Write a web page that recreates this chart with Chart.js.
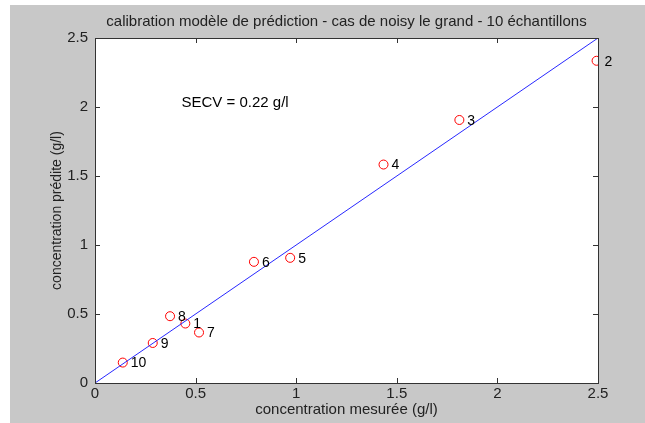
<!DOCTYPE html>
<html>
<head>
<meta charset="utf-8">
<script src="https://cdn.jsdelivr.net/npm/chart.js@4.4.1/dist/chart.umd.min.js"></script>
<style>
  html, body { margin: 0; padding: 0; background: #fff; }
  #bg { position: absolute; left: 10px; top: 5px; right: 0; bottom: 0; background: #c8c8c8; }
  #wrap { position: absolute; left: 0; top: 0; width: 645px; height: 423px; }
</style>
</head>
<body>
<div id="bg"></div>
<div id="wrap"><canvas id="c" width="645" height="423"></canvas></div>
<script>
// ── données ──
const sampleIds   = ['1', '2', '3', '4', '5', '6', '7', '8', '9', '10'];
const measured    = [0.449, 2.493, 1.811, 1.434, 0.970, 0.790, 0.517, 0.373, 0.287, 0.138];
const predicted   = [0.431, 2.335, 1.906, 1.583, 0.907, 0.878, 0.366, 0.484, 0.290, 0.148];
const identityX   = [0, 2.5];
const identityY   = [0, 2.5];
const tickValues  = [0, 0.5, 1, 1.5, 2, 2.5];
const secvText    = 'SECV = 0.22 g/l';
const secvPos     = { x: 0.43, y: 2.03 };

const FONT = 'Liberation Sans, Arial, sans-serif';

// fond blanc de la zone de tracé + cadre + graduations vers l'intérieur
const axesBox = {
  id: 'axesBox',
  beforeDatasetsDraw(chart){
    const { ctx, chartArea: a } = chart;
    ctx.save();
    ctx.fillStyle = '#fff';
    ctx.fillRect(a.left, a.top, a.right - a.left, a.bottom - a.top);
    ctx.restore();
  },
  afterDatasetsDraw(chart){
    const { ctx, chartArea: a, scales } = chart;
    ctx.save();
    ctx.strokeStyle = '#333';
    ctx.lineWidth = 1;
    ctx.strokeRect(Math.round(a.left) + .5, Math.round(a.top) + .5,
                   Math.round(a.right - a.left), Math.round(a.bottom - a.top));
    const L = 5;
    ctx.beginPath();
    tickValues.forEach(v => {
      const px = Math.round(scales.x.getPixelForValue(v)) + .5;
      ctx.moveTo(px, a.bottom); ctx.lineTo(px, a.bottom - L);
      ctx.moveTo(px, a.top);    ctx.lineTo(px, a.top + L);
      const py = Math.round(scales.y.getPixelForValue(v)) + .5;
      ctx.moveTo(a.left, py);  ctx.lineTo(a.left + L, py);
      ctx.moveTo(a.right, py); ctx.lineTo(a.right - L, py);
    });
    ctx.stroke();

    // numéros des échantillons
    const meta = chart.getDatasetMeta(1);
    ctx.fillStyle = '#000';
    ctx.font = '14px ' + FONT;
    ctx.textBaseline = 'middle';
    ctx.textAlign = 'left';
    meta.data.forEach((pt, i) => ctx.fillText(sampleIds[i], pt.x + 8, pt.y + 1));

    // SECV
    ctx.font = '15px ' + FONT;
    ctx.fillText(secvText, scales.x.getPixelForValue(secvPos.x), scales.y.getPixelForValue(secvPos.y));
    ctx.restore();
  }
};

new Chart(document.getElementById('c'), {
  type: 'scatter',
  data: {
    datasets: [
      {
        type: 'line',
        data: identityX.map((x, i) => ({ x, y: identityY[i] })),
        borderColor: '#2828ff', borderWidth: 1, pointRadius: 0, fill: false, tension: 0
      },
      {
        data: measured.map((x, i) => ({ x, y: predicted[i] })),
        pointStyle: 'circle', pointRadius: 4.5, borderWidth: 1,
        borderColor: '#ff0000', backgroundColor: 'rgba(0,0,0,0)'
      }
    ]
  },
  options: {
    responsive: false, animation: false,
    layout: { padding: { left: 0, right: 47, top: 0, bottom: 0 } },
    plugins: {
      legend: { display: false }, tooltip: { enabled: false },
      title: {
        display: true, fullSize: false,
        text: 'calibration modèle de prédiction - cas de noisy le grand - 10 échantillons',
        color: '#222', font: { family: FONT, size: 15, weight: 'normal' },
        padding: { top: 13, bottom: 7 }
      }
    },
    scales: {
      x: {
        type: 'linear', min: 0, max: 2.5,
        afterBuildTicks(s){ s.ticks = tickValues.map(value => ({ value })); },
        afterFit(s){ s.height = 40; },
        grid: { display: false, drawTicks: false }, border: { display: false },
        ticks: { color: '#222', padding: 2, font: { family: FONT, size: 15 }, callback: v => String(v), maxRotation: 0 },
        title: { display: true, text: 'concentration mesurée (g/l)', color: '#222',
                 font: { family: FONT, size: 15 }, padding: { top: 0, bottom: 4 } }
      },
      y: {
        type: 'linear', min: 0, max: 2.5,
        afterBuildTicks(s){ s.ticks = tickValues.map(value => ({ value })); },
        afterFit(s){ s.width = 95; },
        grid: { display: false, drawTicks: false }, border: { display: false },
        ticks: { color: '#222', padding: 7, font: { family: FONT, size: 15 }, callback: v => String(v) },
        title: { display: true, text: 'concentration prédite (g/l)', color: '#222',
                 font: { family: FONT, size: 14 }, padding: { top: 49, bottom: 0 } }
      }
    }
  },
  plugins: [axesBox]
});
</script>
</body>
</html>
